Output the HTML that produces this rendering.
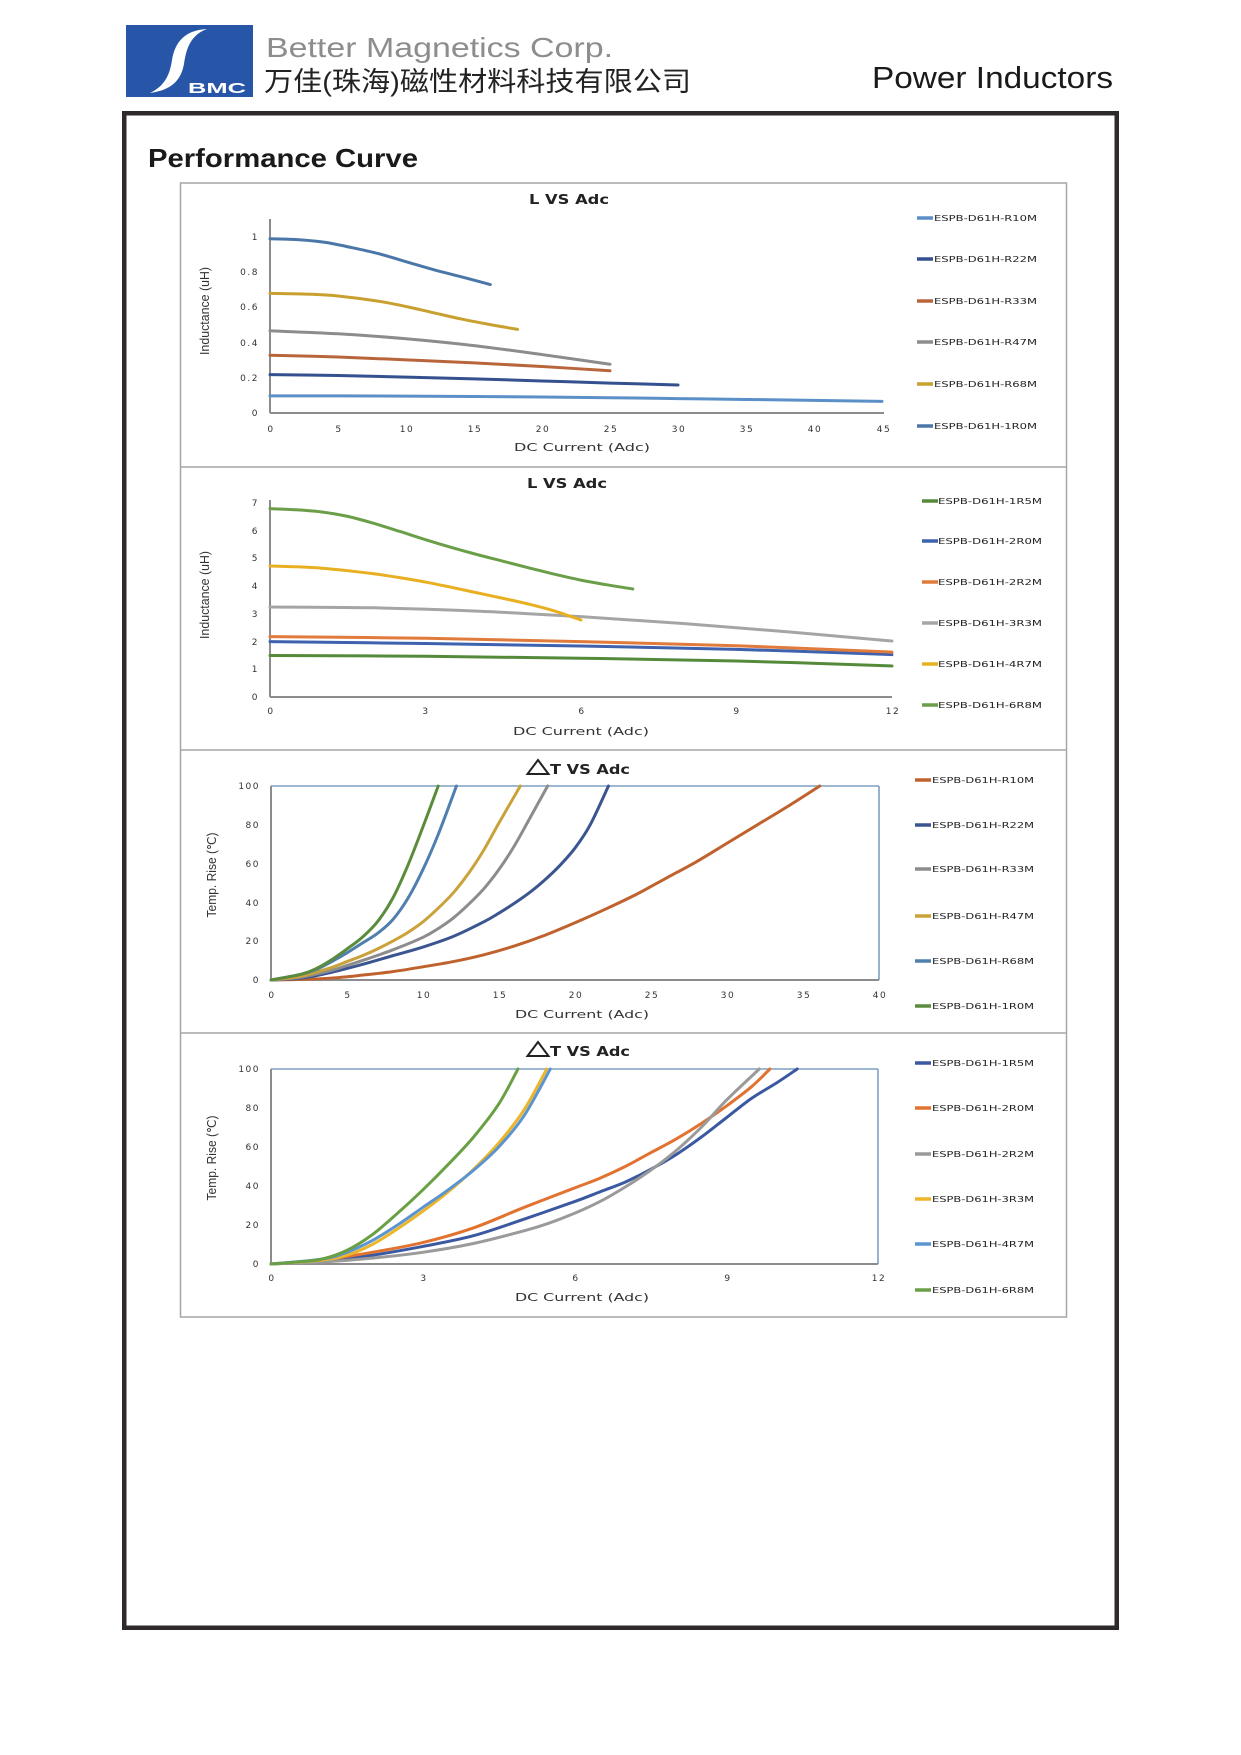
<!DOCTYPE html>
<html>
<head>
<meta charset="utf-8">
<style>
  html,body{margin:0;padding:0;background:#fff;}
  svg{display:block;}
  .tick{font-family:"DejaVu Sans","Liberation Sans",sans-serif;font-size:9px;fill:#333;letter-spacing:1.5px;}
  .leg{font-family:"DejaVu Sans","Liberation Sans",sans-serif;font-size:8.3px;fill:#222;}
  .ttl{font-family:"DejaVu Sans","Liberation Sans",sans-serif;font-size:13.5px;font-weight:bold;fill:#222;}
  .xt{font-family:"DejaVu Sans","Liberation Sans",sans-serif;font-size:11px;fill:#333;}
  .yt{font-family:"Liberation Sans Narrow","Liberation Sans",sans-serif;font-size:12.5px;fill:#333;}
  .s{fill:none;stroke-width:3;stroke-linecap:round;stroke-linejoin:round;vector-effect:non-scaling-stroke;}
  .ax{stroke:#8c8c8c;stroke-width:2;fill:none;}
  .bx{stroke:#7ea0c4;stroke-width:1.6;fill:none;}
  .lg{stroke-width:3.5;}
</style>
</head>
<body>
<svg width="1241" height="1755" viewBox="0 0 1241 1755" xmlns="http://www.w3.org/2000/svg">
  <rect width="1241" height="1755" fill="#fff"/>

  <!-- Header logo -->
  <rect x="126" y="25" width="127" height="72" fill="#2756a8"/>
  <path d="M207,29 C190,35 186,50 184,64 C181,80 172,90 150,93 C165,86 170,74 172,60 C175,42 185,30 207,29 Z" fill="#fff"/>
  <text x="188" y="93" font-family="Liberation Sans, sans-serif" font-weight="bold" font-size="15" fill="#fff" textLength="58" lengthAdjust="spacingAndGlyphs">BMC</text>

  <text x="266" y="57" font-family="Liberation Sans, sans-serif" font-size="28" fill="#8d8d8d" textLength="347" lengthAdjust="spacingAndGlyphs">Better Magnetics Corp.</text>
  <text x="264" y="91" font-family="Liberation Sans, 'Noto Sans CJK SC', sans-serif" font-size="27" fill="#222" textLength="427" lengthAdjust="spacingAndGlyphs">万佳(珠海)磁性材料科技有限公司</text>
  <text x="872" y="88" font-family="'Liberation Sans Narrow', 'Liberation Sans', sans-serif" font-size="31" fill="#1a1a1a" textLength="241" lengthAdjust="spacingAndGlyphs">Power Inductors</text>

  <!-- Frame -->
  <rect x="124.25" y="113.25" width="992.5" height="1514.5" fill="none" stroke="#2e2a2b" stroke-width="4.5"/>

  <text x="148" y="167" font-family="'Liberation Sans Narrow', 'Liberation Sans', sans-serif" font-weight="bold" font-size="26" fill="#1a1a1a" textLength="270" lengthAdjust="spacingAndGlyphs">Performance Curve</text>

  <!-- Panels -->
  <rect x="180.5" y="183" width="886" height="1134" fill="none" stroke="#a6a6a6" stroke-width="1.5"/>
  <line x1="180.5" y1="467" x2="1066.5" y2="467" stroke="#a6a6a6" stroke-width="1.5"/>
  <line x1="180.5" y1="750" x2="1066.5" y2="750" stroke="#a6a6a6" stroke-width="1.5"/>
  <line x1="180.5" y1="1033" x2="1066.5" y2="1033" stroke="#a6a6a6" stroke-width="1.5"/>

  <!-- ================= CHART 1 ================= -->
  <text class="ttl" x="529" y="204" textLength="80" lengthAdjust="spacingAndGlyphs">L VS Adc</text>
  <line class="ax" x1="270" y1="219" x2="270" y2="413"/>
  <line class="ax" x1="270" y1="413" x2="884" y2="413"/>
  <g text-anchor="end">
    <text class="tick" x="259" y="416">0</text>
    <text class="tick" x="259" y="381">0.2</text>
    <text class="tick" x="259" y="346">0.4</text>
    <text class="tick" x="259" y="310">0.6</text>
    <text class="tick" x="259" y="275">0.8</text>
    <text class="tick" x="259" y="240">1</text>
  </g>
  <g text-anchor="middle">
    <text class="tick" x="271" y="432">0</text>
    <text class="tick" x="339" y="432">5</text>
    <text class="tick" x="407" y="432">10</text>
    <text class="tick" x="475" y="432">15</text>
    <text class="tick" x="543" y="432">20</text>
    <text class="tick" x="611" y="432">25</text>
    <text class="tick" x="679" y="432">30</text>
    <text class="tick" x="747" y="432">35</text>
    <text class="tick" x="815" y="432">40</text>
    <text class="tick" x="884" y="432">45</text>
  </g>
  <text class="xt" x="514" y="451" textLength="136" lengthAdjust="spacingAndGlyphs">DC Current (Adc)</text>
  <text class="yt" transform="translate(209,311) rotate(-90)" text-anchor="middle" textLength="88" lengthAdjust="spacingAndGlyphs">Inductance (uH)</text>
  <g transform="translate(270,413) scale(13.6,-176)">
    <polyline class="s" stroke="#5b8fc8" points="0,0.097 5,0.097 10,0.096 15,0.094 20,0.091 25,0.087 30,0.082 35,0.077 40,0.072 45,0.066"/>
    <polyline class="s" stroke="#34508f" points="0,0.218 5,0.213 10,0.204 15,0.194 20,0.182 25,0.17 30,0.159"/>
    <polyline class="s" stroke="#b8653c" points="0,0.328 5,0.318 10,0.302 15,0.285 20,0.264 25,0.24"/>
    <polyline class="s" stroke="#8c8c8c" points="0,0.467 5,0.45 10,0.422 15,0.383 20,0.332 25,0.277"/>
    <polyline class="s" stroke="#c8a030" points="0,0.68 3,0.675 5,0.665 8,0.635 10,0.605 12,0.57 14,0.535 16,0.505 18.2,0.475"/>
    <polyline class="s" stroke="#4a76a8" points="0,0.99 2,0.985 4,0.97 6,0.94 8,0.905 10,0.86 12,0.815 14,0.775 16.2,0.73"/>
  </g>
  <g>
    <line class="lg" x1="917" y1="218" x2="933" y2="218" stroke="#5b8fc8"/>
    <text class="leg" x="934" y="221" textLength="103" lengthAdjust="spacingAndGlyphs">ESPB-D61H-R10M</text>
    <line class="lg" x1="917" y1="259" x2="933" y2="259" stroke="#34508f"/>
    <text class="leg" x="934" y="262" textLength="103" lengthAdjust="spacingAndGlyphs">ESPB-D61H-R22M</text>
    <line class="lg" x1="917" y1="301" x2="933" y2="301" stroke="#b8653c"/>
    <text class="leg" x="934" y="304" textLength="103" lengthAdjust="spacingAndGlyphs">ESPB-D61H-R33M</text>
    <line class="lg" x1="917" y1="342" x2="933" y2="342" stroke="#8c8c8c"/>
    <text class="leg" x="934" y="345" textLength="103" lengthAdjust="spacingAndGlyphs">ESPB-D61H-R47M</text>
    <line class="lg" x1="917" y1="384" x2="933" y2="384" stroke="#c8a030"/>
    <text class="leg" x="934" y="387" textLength="103" lengthAdjust="spacingAndGlyphs">ESPB-D61H-R68M</text>
    <line class="lg" x1="917" y1="426" x2="933" y2="426" stroke="#4a76a8"/>
    <text class="leg" x="934" y="429" textLength="103" lengthAdjust="spacingAndGlyphs">ESPB-D61H-1R0M</text>
  </g>

  <!-- ================= CHART 2 ================= -->
  <text class="ttl" x="527" y="488" textLength="80" lengthAdjust="spacingAndGlyphs">L VS Adc</text>
  <line class="ax" x1="270" y1="500" x2="270" y2="697"/>
  <line class="ax" x1="270" y1="697" x2="892" y2="697"/>
  <g text-anchor="end">
    <text class="tick" x="259" y="700">0</text>
    <text class="tick" x="259" y="672">1</text>
    <text class="tick" x="259" y="645">2</text>
    <text class="tick" x="259" y="617">3</text>
    <text class="tick" x="259" y="589">4</text>
    <text class="tick" x="259" y="561">5</text>
    <text class="tick" x="259" y="534">6</text>
    <text class="tick" x="259" y="506">7</text>
  </g>
  <g text-anchor="middle">
    <text class="tick" x="271" y="714">0</text>
    <text class="tick" x="426" y="714">3</text>
    <text class="tick" x="582" y="714">6</text>
    <text class="tick" x="737" y="714">9</text>
    <text class="tick" x="893" y="714">12</text>
  </g>
  <text class="xt" x="513" y="735" textLength="136" lengthAdjust="spacingAndGlyphs">DC Current (Adc)</text>
  <text class="yt" transform="translate(209,595) rotate(-90)" text-anchor="middle" textLength="88" lengthAdjust="spacingAndGlyphs">Inductance (uH)</text>
  <g transform="translate(270,697) scale(51.83,-27.7)">
    <polyline class="s" stroke="#548a3a" points="0,1.5 3,1.47 6,1.4 9,1.3 12,1.12"/>
    <polyline class="s" stroke="#3e62ad" points="0,2.0 3,1.93 6,1.84 9,1.72 12,1.53"/>
    <polyline class="s" stroke="#e07b3c" points="0,2.18 3,2.12 6,2.0 9,1.85 12,1.62"/>
    <polyline class="s" stroke="#a5a5a5" points="0,3.25 2,3.22 4,3.1 6,2.9 8,2.65 10,2.35 12,2.02"/>
    <polyline class="s" stroke="#e8b020" points="0,4.73 0.5,4.7 1,4.65 1.5,4.56 2,4.45 2.5,4.31 3,4.15 3.5,3.96 4,3.76 4.5,3.56 5,3.35 5.5,3.1 6,2.78"/>
    <polyline class="s" stroke="#6a9e48" points="0,6.8 0.5,6.76 1,6.68 1.5,6.52 2,6.27 2.5,5.98 3,5.68 3.5,5.4 4,5.14 4.5,4.9 5,4.66 5.5,4.43 6,4.22 6.5,4.05 7,3.9"/>
  </g>
  <g>
    <line class="lg" x1="922" y1="501" x2="938" y2="501" stroke="#548a3a"/>
    <text class="leg" x="938" y="504" textLength="104" lengthAdjust="spacingAndGlyphs">ESPB-D61H-1R5M</text>
    <line class="lg" x1="922" y1="541" x2="938" y2="541" stroke="#3e62ad"/>
    <text class="leg" x="938" y="544" textLength="104" lengthAdjust="spacingAndGlyphs">ESPB-D61H-2R0M</text>
    <line class="lg" x1="922" y1="582" x2="938" y2="582" stroke="#e07b3c"/>
    <text class="leg" x="938" y="585" textLength="104" lengthAdjust="spacingAndGlyphs">ESPB-D61H-2R2M</text>
    <line class="lg" x1="922" y1="623" x2="938" y2="623" stroke="#a5a5a5"/>
    <text class="leg" x="938" y="626" textLength="104" lengthAdjust="spacingAndGlyphs">ESPB-D61H-3R3M</text>
    <line class="lg" x1="922" y1="664" x2="938" y2="664" stroke="#e8b020"/>
    <text class="leg" x="938" y="667" textLength="104" lengthAdjust="spacingAndGlyphs">ESPB-D61H-4R7M</text>
    <line class="lg" x1="922" y1="705" x2="938" y2="705" stroke="#6a9e48"/>
    <text class="leg" x="938" y="708" textLength="104" lengthAdjust="spacingAndGlyphs">ESPB-D61H-6R8M</text>
  </g>

  <!-- ================= CHART 3 ================= -->
  <polygon points="538,760 527.5,774 548.5,774" fill="none" stroke="#222" stroke-width="2"/>
  <text class="ttl" x="550" y="774" textLength="80" lengthAdjust="spacingAndGlyphs">T VS Adc</text>
  <line class="bx" x1="271" y1="786" x2="879" y2="786"/>
  <line class="bx" x1="879" y1="786" x2="879" y2="980"/>
  <line class="ax" x1="271" y1="786" x2="271" y2="980"/>
  <line class="ax" x1="271" y1="980" x2="879" y2="980"/>
  <g text-anchor="end">
    <text class="tick" x="260" y="983">0</text>
    <text class="tick" x="260" y="944">20</text>
    <text class="tick" x="260" y="906">40</text>
    <text class="tick" x="260" y="867">60</text>
    <text class="tick" x="260" y="828">80</text>
    <text class="tick" x="260" y="789">100</text>
  </g>
  <g text-anchor="middle">
    <text class="tick" x="272" y="998">0</text>
    <text class="tick" x="348" y="998">5</text>
    <text class="tick" x="424" y="998">10</text>
    <text class="tick" x="500" y="998">15</text>
    <text class="tick" x="576" y="998">20</text>
    <text class="tick" x="652" y="998">25</text>
    <text class="tick" x="728" y="998">30</text>
    <text class="tick" x="804" y="998">35</text>
    <text class="tick" x="880" y="998">40</text>
  </g>
  <text class="xt" x="515" y="1018" textLength="134" lengthAdjust="spacingAndGlyphs">DC Current (Adc)</text>
  <text class="yt" transform="translate(216,875) rotate(-90)" text-anchor="middle" textLength="85" lengthAdjust="spacingAndGlyphs">Temp. Rise (℃)</text>
  <g transform="translate(271,980) scale(15.2,-1.94)">
    <polyline class="s" stroke="#c0622e" points="0,0 2,0.3 4,1 6,2.5 8,4.3 10,6.8 12,9.5 14,13 16,17.5 18,23 20,29.5 22,36.5 24,44 26,52.5 28,61 30,70.5 32,80 34,89.5 36.1,100"/>
    <polyline class="s" stroke="#3b5590" points="0,0 2,1 4,4 6,8 8,12.5 10,17 12,22.5 14,30 15,34.5 16,39.5 17,45 18,51.5 19,59 20,68 21,80 22.2,100"/>
    <polyline class="s" stroke="#8c8c8c" points="0,0 2,1.5 4,5 5,7.5 6,10 8,15.5 10,22 11,26.5 12,32 13,39 14,47 15,57 16,69 17,83 18.2,100"/>
    <polyline class="s" stroke="#c9a23a" points="0,0 2,2 4,6.5 5,9.5 6,12.5 7,16 8,20 9,24.5 10,30 11,37 12,45 13,55 14,67 15,81 16.4,100"/>
    <polyline class="s" stroke="#4f7fae" points="0,0 2,3 3,5.5 4,9.5 5,14 6,19 7,24 8,31 9,42 10,57 11,75 12.2,100"/>
    <polyline class="s" stroke="#5a8c3c" points="0,0 2,3 3,6 4,10.5 5,16 6,22 7,30 8,42 9,59 10,79 11,100"/>
  </g>
  <g>
    <line class="lg" x1="915" y1="780" x2="931" y2="780" stroke="#c0622e"/>
    <text class="leg" x="932" y="783" textLength="102" lengthAdjust="spacingAndGlyphs">ESPB-D61H-R10M</text>
    <line class="lg" x1="915" y1="825" x2="931" y2="825" stroke="#3b5590"/>
    <text class="leg" x="932" y="828" textLength="102" lengthAdjust="spacingAndGlyphs">ESPB-D61H-R22M</text>
    <line class="lg" x1="915" y1="869" x2="931" y2="869" stroke="#8c8c8c"/>
    <text class="leg" x="932" y="872" textLength="102" lengthAdjust="spacingAndGlyphs">ESPB-D61H-R33M</text>
    <line class="lg" x1="915" y1="916" x2="931" y2="916" stroke="#c9a23a"/>
    <text class="leg" x="932" y="919" textLength="102" lengthAdjust="spacingAndGlyphs">ESPB-D61H-R47M</text>
    <line class="lg" x1="915" y1="961" x2="931" y2="961" stroke="#4f7fae"/>
    <text class="leg" x="932" y="964" textLength="102" lengthAdjust="spacingAndGlyphs">ESPB-D61H-R68M</text>
    <line class="lg" x1="915" y1="1006" x2="931" y2="1006" stroke="#5a8c3c"/>
    <text class="leg" x="932" y="1009" textLength="102" lengthAdjust="spacingAndGlyphs">ESPB-D61H-1R0M</text>
  </g>

  <!-- ================= CHART 4 ================= -->
  <polygon points="538,1042 527.5,1056 548.5,1056" fill="none" stroke="#222" stroke-width="2"/>
  <text class="ttl" x="550" y="1056" textLength="80" lengthAdjust="spacingAndGlyphs">T VS Adc</text>
  <line class="bx" x1="271" y1="1069" x2="878" y2="1069"/>
  <line class="bx" x1="878" y1="1069" x2="878" y2="1264"/>
  <line class="ax" x1="271" y1="1069" x2="271" y2="1264"/>
  <line class="ax" x1="271" y1="1264" x2="878" y2="1264"/>
  <g text-anchor="end">
    <text class="tick" x="260" y="1267">0</text>
    <text class="tick" x="260" y="1228">20</text>
    <text class="tick" x="260" y="1189">40</text>
    <text class="tick" x="260" y="1150">60</text>
    <text class="tick" x="260" y="1111">80</text>
    <text class="tick" x="260" y="1072">100</text>
  </g>
  <g text-anchor="middle">
    <text class="tick" x="272" y="1281">0</text>
    <text class="tick" x="424" y="1281">3</text>
    <text class="tick" x="576" y="1281">6</text>
    <text class="tick" x="728" y="1281">9</text>
    <text class="tick" x="879" y="1281">12</text>
  </g>
  <text class="xt" x="515" y="1301" textLength="134" lengthAdjust="spacingAndGlyphs">DC Current (Adc)</text>
  <text class="yt" transform="translate(216,1158) rotate(-90)" text-anchor="middle" textLength="85" lengthAdjust="spacingAndGlyphs">Temp. Rise (℃)</text>
  <g transform="translate(271,1264) scale(50.6,-1.95)">
    <polyline class="s" stroke="#3a59a0" points="0,0 1,1.5 2,4.5 3,9 4,14.5 5,23 6,32 6.5,37 7,42 7.5,48.5 8,56 8.5,65 9,75 9.5,85 10,93 10.4,100"/>
    <polyline class="s" stroke="#e2722f" points="0,0 1,2 2,6 3,11 4,18.5 5,29 6,39 6.5,44 7,50 7.5,57 8,64 8.5,72 9,81 9.5,91 9.86,100"/>
    <polyline class="s" stroke="#9a9a9a" points="0,0 1,1 2,3 3,6 4,10.5 5,17 5.5,21 6,26 6.5,32 7,39.5 7.5,48 8,58 8.5,70 9,84 9.65,100"/>
    <polyline class="s" stroke="#ecb52a" points="0,0 1,2 1.5,4.5 2,10 2.5,18 3,27 3.5,37 4,48.5 4.5,62 5,79 5.45,100"/>
    <polyline class="s" stroke="#5b95cf" points="0,0 1,2.5 1.5,6 2,12 2.5,20 3,29 3.5,38 4,48 4.5,60 5,76 5.52,100"/>
    <polyline class="s" stroke="#6aa045" points="0,0 0.5,1 1,2.5 1.5,7 2,15 2.5,26 3,38 3.5,51 4,65 4.5,82 4.88,100"/>
  </g>
  <g>
    <line class="lg" x1="915" y1="1063" x2="931" y2="1063" stroke="#3a59a0"/>
    <text class="leg" x="932" y="1066" textLength="102" lengthAdjust="spacingAndGlyphs">ESPB-D61H-1R5M</text>
    <line class="lg" x1="915" y1="1108" x2="931" y2="1108" stroke="#e2722f"/>
    <text class="leg" x="932" y="1111" textLength="102" lengthAdjust="spacingAndGlyphs">ESPB-D61H-2R0M</text>
    <line class="lg" x1="915" y1="1154" x2="931" y2="1154" stroke="#9a9a9a"/>
    <text class="leg" x="932" y="1157" textLength="102" lengthAdjust="spacingAndGlyphs">ESPB-D61H-2R2M</text>
    <line class="lg" x1="915" y1="1199" x2="931" y2="1199" stroke="#ecb52a"/>
    <text class="leg" x="932" y="1202" textLength="102" lengthAdjust="spacingAndGlyphs">ESPB-D61H-3R3M</text>
    <line class="lg" x1="915" y1="1244" x2="931" y2="1244" stroke="#5b95cf"/>
    <text class="leg" x="932" y="1247" textLength="102" lengthAdjust="spacingAndGlyphs">ESPB-D61H-4R7M</text>
    <line class="lg" x1="915" y1="1290" x2="931" y2="1290" stroke="#6aa045"/>
    <text class="leg" x="932" y="1293" textLength="102" lengthAdjust="spacingAndGlyphs">ESPB-D61H-6R8M</text>
  </g>
</svg>
<script>
(function(){
  var NS="http://www.w3.org/2000/svg";
  var pls=document.querySelectorAll("polyline.s");
  for(var k=0;k<pls.length;k++){
    var pl=pls[k];
    var raw=pl.getAttribute("points").trim().split(/\s+/);
    var p=[];
    for(var i=0;i<raw.length;i++){var a=raw[i].split(",");p.push([parseFloat(a[0]),parseFloat(a[1])]);}
    var d="M"+p[0][0]+","+p[0][1];
    for(var i=0;i<p.length-1;i++){
      var p0=p[i>0?i-1:0],p1=p[i],p2=p[i+1],p3=p[i+2<p.length?i+2:p.length-1];
      var c1x=p1[0]+(p2[0]-p0[0])/6,c1y=p1[1]+(p2[1]-p0[1])/6;
      var c2x=p2[0]-(p3[0]-p1[0])/6,c2y=p2[1]-(p3[1]-p1[1])/6;
      d+=" C"+c1x+","+c1y+" "+c2x+","+c2y+" "+p2[0]+","+p2[1];
    }
    var path=document.createElementNS(NS,"path");
    path.setAttribute("d",d);
    path.setAttribute("class","s");
    path.setAttribute("stroke",pl.getAttribute("stroke"));
    pl.parentNode.insertBefore(path,pl);
    pl.parentNode.removeChild(pl);
  }
})();
</script>
</body>
</html>
